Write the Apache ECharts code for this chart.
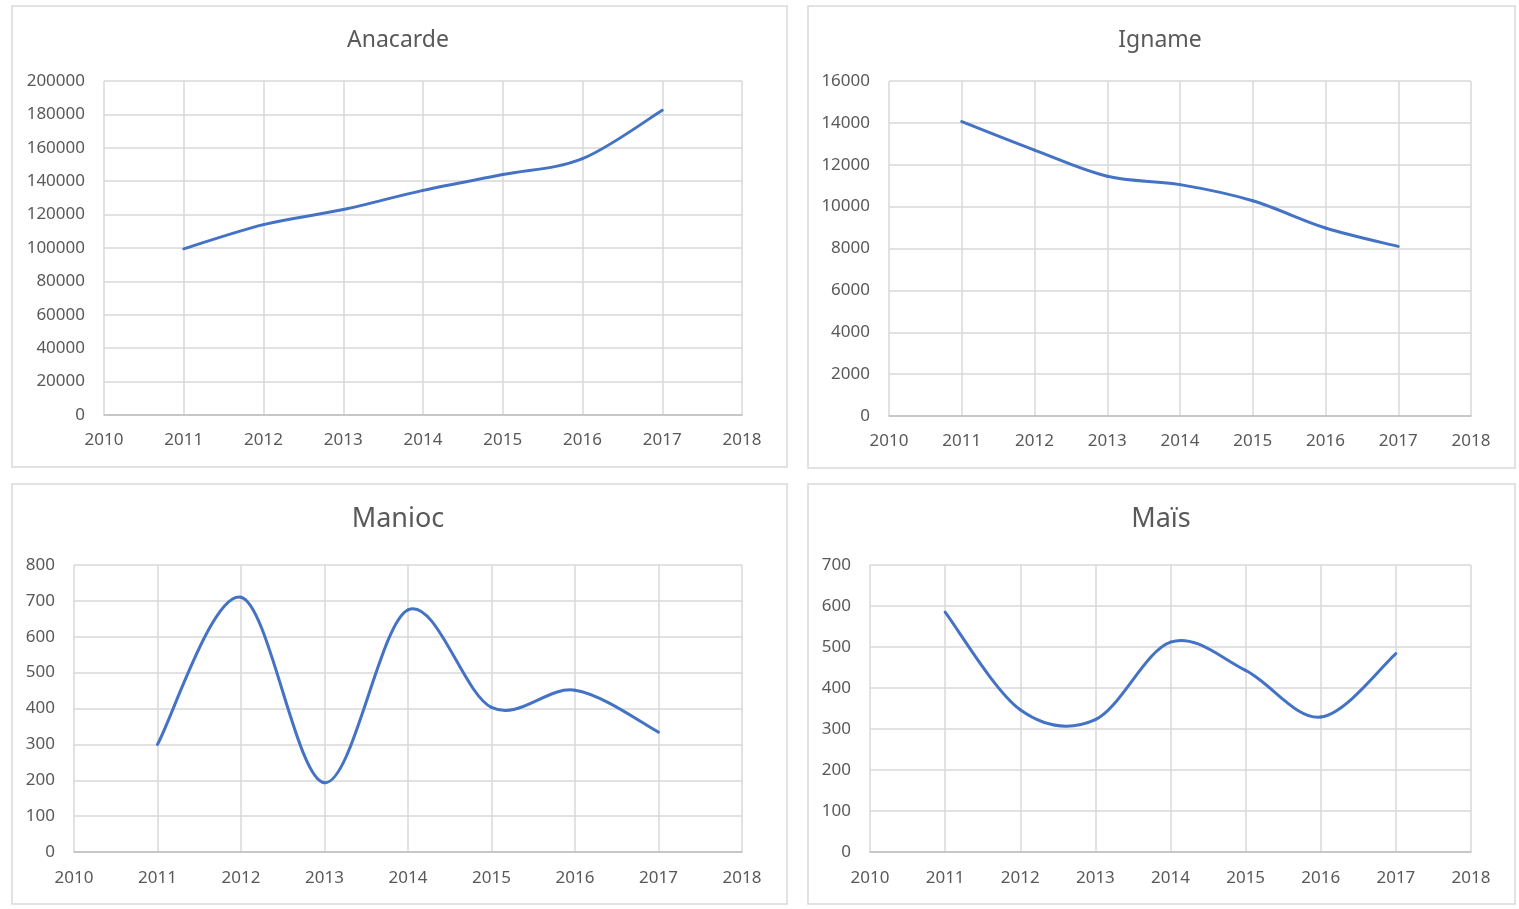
<!DOCTYPE html>
<html>
<head>
<meta charset="utf-8">
<title>Production 2011–2017</title>
<script src="https://cdn.jsdelivr.net/npm/echarts@6/dist/echarts.min.js"></script>
<style>
  html, body { margin: 0; padding: 0; background: #ffffff; }
  #chart { width: 1519px; height: 909px; }
</style>
</head>
<body>
<div id="chart"></div>
<script>
// Years of the series and the year axis ticks
const years = [2011, 2012, 2013, 2014, 2015, 2016, 2017];
const yearTicks = [2010, 2011, 2012, 2013, 2014, 2015, 2016, 2017, 2018];

// Panel titles
const titles = ['Anacarde', 'Igname', 'Manioc', 'Maïs'];

// Values per crop
const anacarde = [99500, 114000, 123000, 134500, 144000, 153500, 182500];
const igname = [14060, 12700, 11450, 11050, 10280, 8980, 8100];
const manioc = [300, 710, 193, 675, 403, 451, 334];
const mais = [585, 347, 323, 512, 443, 329, 484];

// Value axis ticks per panel
const anacardeTicks = [0, 20000, 40000, 60000, 80000, 100000, 120000, 140000, 160000, 180000, 200000];
const ignameTicks = [0, 2000, 4000, 6000, 8000, 10000, 12000, 14000, 16000];
const maniocTicks = [0, 100, 200, 300, 400, 500, 600, 700, 800];
const maisTicks = [0, 100, 200, 300, 400, 500, 600, 700];

const seriesValues = [anacarde, igname, manioc, mais];
const valueTicks = [anacardeTicks, ignameTicks, maniocTicks, maisTicks];

// Layout of the four panels
const panels = [
  { box: [12, 6, 775, 461], grid: { left: 104, top: 81, width: 638, height: 334 }, titleX: 398, titleY: 40, titleSize: 23, labelMargin: 17 },
  { box: [808, 6, 707, 462], grid: { left: 889, top: 81, width: 582, height: 335 }, titleX: 1160, titleY: 40, titleSize: 23, labelMargin: 17 },
  { box: [12, 484, 775, 420], grid: { left: 74, top: 565, width: 668, height: 287 }, titleX: 398, titleY: 519, titleSize: 27, labelMargin: 18 },
  { box: [808, 484, 707, 420], grid: { left: 870, top: 565, width: 601, height: 287 }, titleX: 1161, titleY: 519, titleSize: 27, labelMargin: 18 }
];

const FONT = '"Noto Sans", "Open Sans", sans-serif';
const TEXT = '#595959';
const GRIDLINE = '#d9d9d9';
const LINE = '#4472C4';

// Smoothed line drawn segment by segment as a cardinal (Catmull-Rom) spline
// through the points, positioned with the series' own axes.
function smoothSegment(values) {
  const n = values.length;
  return function (params, api) {
    const k = params.dataIndex;
    if (k >= n - 1) return null;
    const pt = function (j) {
      const c = Math.max(0, Math.min(n - 1, j));
      return api.coord([years[c], values[c]]);
    };
    const p0 = pt(k - 1), p1 = pt(k), p2 = pt(k + 1), p3 = pt(k + 2);
    return {
      type: 'bezierCurve',
      shape: {
        x1: p1[0], y1: p1[1],
        x2: p2[0], y2: p2[1],
        cpx1: p1[0] + (p2[0] - p0[0]) / 6,
        cpy1: p1[1] + (p2[1] - p0[1]) / 6,
        cpx2: p2[0] - (p3[0] - p1[0]) / 6,
        cpy2: p2[1] - (p3[1] - p1[1]) / 6
      },
      style: { stroke: LINE, lineWidth: 3, fill: null, lineCap: 'round', lineJoin: 'round' }
    };
  };
}

const grids = [], xAxes = [], yAxes = [], series = [], graphics = [];

panels.forEach(function (p, i) {
  grids.push(Object.assign({ containLabel: false }, p.grid));

  xAxes.push({
    type: 'value',
    gridIndex: i,
    min: yearTicks[0],
    max: yearTicks[yearTicks.length - 1],
    interval: yearTicks[1] - yearTicks[0],
    axisLine: { show: true, lineStyle: { color: '#bfbfbf', width: 1.5 } },
    axisTick: { show: false },
    splitLine: { show: true, lineStyle: { color: GRIDLINE, width: 1.5 } },
    axisLabel: {
      color: TEXT, fontFamily: FONT, fontSize: 17, margin: p.labelMargin,
      formatter: function (v) { return String(v); }
    }
  });

  const ticks = valueTicks[i];
  yAxes.push({
    type: 'value',
    gridIndex: i,
    min: ticks[0],
    max: ticks[ticks.length - 1],
    interval: ticks[1] - ticks[0],
    axisLine: { show: false },
    axisTick: { show: false },
    splitLine: { show: true, lineStyle: { color: GRIDLINE, width: 1.5 } },
    axisLabel: {
      color: TEXT, fontFamily: FONT, fontSize: 17, margin: 19,
      formatter: function (v) { return String(v); }
    }
  });

  series.push({
    type: 'custom',
    name: titles[i],
    xAxisIndex: i,
    yAxisIndex: i,
    data: years.map(function (y, k) { return [y, seriesValues[i][k]]; }),
    encode: { x: 0, y: 1 },
    renderItem: smoothSegment(seriesValues[i]),
    z: 5
  });

  // panel frame
  graphics.push({
    type: 'rect',
    shape: { x: p.box[0], y: p.box[1], width: p.box[2], height: p.box[3] },
    style: { fill: null, stroke: GRIDLINE, lineWidth: 1.5 },
    silent: true
  });

  // panel title
  graphics.push({
    type: 'text',
    x: p.titleX,
    y: p.titleY,
    style: {
      text: titles[i],
      fill: TEXT,
      font: p.titleSize + 'px ' + FONT,
      textAlign: 'center',
      textVerticalAlign: 'middle'
    },
    silent: true
  });
});

const chart = echarts.init(document.getElementById('chart'), null, { renderer: 'canvas' });
chart.setOption({
  animation: false,
  backgroundColor: '#ffffff',
  grid: grids,
  xAxis: xAxes,
  yAxis: yAxes,
  series: series,
  graphic: graphics
});
</script>
</body>
</html>
